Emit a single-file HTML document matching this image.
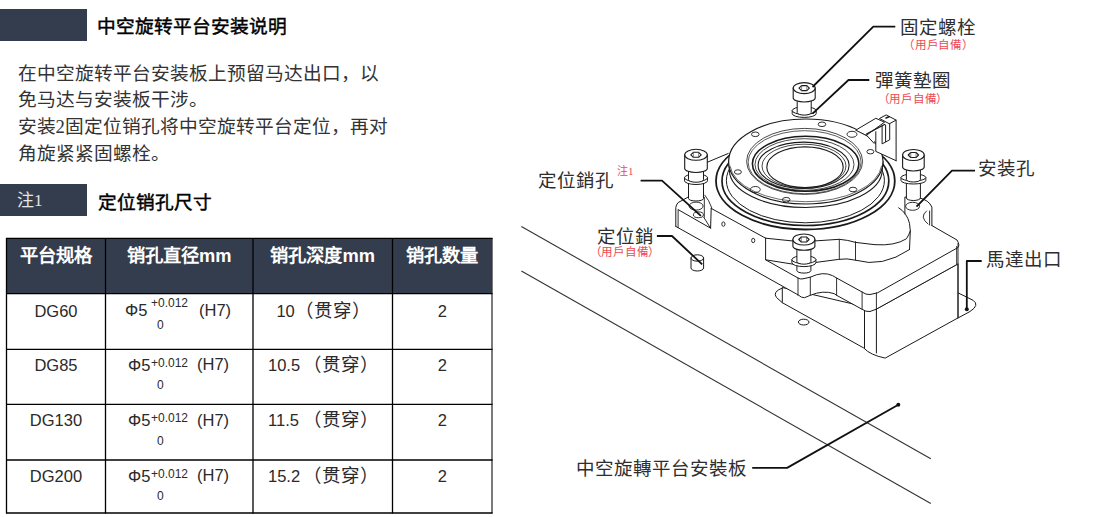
<!DOCTYPE html>
<html lang="zh-CN"><head><meta charset="utf-8">
<style>
html,body{margin:0;padding:0;background:#fff;}
body{width:1113px;height:517px;position:relative;overflow:hidden;font-family:"Liberation Serif",serif;color:#000;}
.a{position:absolute;white-space:nowrap;line-height:1;}
.bar{position:absolute;background:#343d4d;}
.t{font-size:18.7px;color:#333;}
.b{font-weight:normal;color:#000;-webkit-text-stroke:0.45px #000;}
.hd{font-family:"Liberation Sans",sans-serif;font-weight:bold;font-size:18.3px;color:#fff;text-align:center;}
.c{font-family:"Liberation Sans",sans-serif;font-size:16.5px;color:#2a2a2a;}
.cc{text-align:center;}
.cj{font-family:"Liberation Sans",sans-serif;font-size:18.5px;color:#2a2a2a;}
.sup{font-family:"Liberation Sans",sans-serif;font-size:12px;color:#2a2a2a;}
.lb{font-family:"Liberation Serif",serif;font-size:19px;color:#2e2e2e;}
.red{font-family:"Liberation Serif",serif;color:#ec4a55;font-size:11px;}
</style></head><body>
<div class="bar" style="left:0;top:9px;width:87px;height:31.5px"></div>
<div class="a t b" style="left:97px;top:18px">中空旋转平台安装说明</div>
<div class="a t" style="left:17.5px;top:64.5px">在中空旋转平台安装板上预留马达出口，以</div>
<div class="a t" style="left:17.5px;top:91.2px">免马达与安装板干涉。</div>
<div class="a t" style="left:17.5px;top:117.9px">安装2固定位销孔将中空旋转平台定位，再对</div>
<div class="a t" style="left:17.5px;top:144.7px">角旋紧紧固螺栓。</div>
<div class="bar" style="left:0;top:184px;width:87px;height:31.5px"></div>
<div class="a" style="left:17px;top:192px;font-size:17px;color:#e6e6e6">注1</div>
<div class="a t b" style="left:98px;top:194px">定位销孔尺寸</div>
<div style="position:absolute;left:6px;top:238px;width:486px;height:55.7px;background:#343d4d"></div>
<div class="a hd" style="left:6.5px;width:99.0px;top:246.5px">平台规格</div>
<div class="a hd" style="left:105.5px;width:147.5px;top:246.5px">销孔直径mm</div>
<div class="a hd" style="left:253px;width:139.5px;top:246.5px">销孔深度mm</div>
<div class="a hd" style="left:392.5px;width:99.5px;top:246.5px">销孔数量</div>
<div class="a c cc" style="left:6.5px;width:99.0px;top:302.5px">DG60</div>
<div class="a c cc" style="left:392.5px;width:99.5px;top:302.5px">2</div>
<div class="a c" style="left:276.4px;top:302.5px">10</div>
<div class="a cj" style="left:295.09999999999997px;top:301.5px">（贯穿）</div>
<div class="a c" style="left:125px;top:301.5px">Φ5</div>
<div class="a sup" style="left:151px;top:296.5px">+0.012</div>
<div class="a c" style="left:199px;top:302px">(H7)</div>
<div class="a sup" style="left:157px;top:319px">0</div>
<div class="a c cc" style="left:6.5px;width:99.0px;top:356.8px">DG85</div>
<div class="a c cc" style="left:392.5px;width:99.5px;top:356.8px">2</div>
<div class="a c" style="left:268px;top:356.8px">10.5</div>
<div class="a cj" style="left:302.7px;top:355.8px">（贯穿）</div>
<div class="a c" style="left:128px;top:356.5px">Φ5</div>
<div class="a sup" style="left:151px;top:356.5px">+0.012</div>
<div class="a c" style="left:197px;top:356.2px">(H7)</div>
<div class="a sup" style="left:157px;top:379px">0</div>
<div class="a c cc" style="left:6.5px;width:99.0px;top:412.3px">DG130</div>
<div class="a c cc" style="left:392.5px;width:99.5px;top:412.3px">2</div>
<div class="a c" style="left:268px;top:412.3px">11.5</div>
<div class="a cj" style="left:302.7px;top:411.3px">（贯穿）</div>
<div class="a c" style="left:128px;top:412.0px">Φ5</div>
<div class="a sup" style="left:151px;top:412.0px">+0.012</div>
<div class="a c" style="left:197px;top:411.7px">(H7)</div>
<div class="a sup" style="left:157px;top:434.5px">0</div>
<div class="a c cc" style="left:6.5px;width:99.0px;top:467.8px">DG200</div>
<div class="a c cc" style="left:392.5px;width:99.5px;top:467.8px">2</div>
<div class="a c" style="left:268px;top:467.8px">15.2</div>
<div class="a cj" style="left:302.7px;top:466.8px">（贯穿）</div>
<div class="a c" style="left:128px;top:467.5px">Φ5</div>
<div class="a sup" style="left:151px;top:467.5px">+0.012</div>
<div class="a c" style="left:197px;top:467.2px">(H7)</div>
<div class="a sup" style="left:157px;top:490px">0</div>
<svg style="position:absolute;left:0;top:0" width="1113" height="517" viewBox="0 0 1113 517">
<g stroke="#000" stroke-width="1.3" fill="none">
<line x1="6.5" y1="238" x2="6.5" y2="513.6"/>
<line x1="105.5" y1="238" x2="105.5" y2="513.6"/>
<line x1="253" y1="238" x2="253" y2="513.6"/>
<line x1="392.5" y1="238" x2="392.5" y2="513.6"/>
<line x1="492" y1="238" x2="492" y2="513.6" stroke="#333"/>
<line x1="6" y1="238.4" x2="492.5" y2="238.4"/>
<line x1="6" y1="293.7" x2="492.5" y2="293.7"/>
<line x1="6" y1="349.4" x2="492.5" y2="349.4"/>
<line x1="6" y1="404.4" x2="492.5" y2="404.4"/>
<line x1="6" y1="460" x2="492.5" y2="460"/>
<line x1="6" y1="513" x2="492.5" y2="513"/>
</g>
<polyline points="521.4,226.5 930.8,458.8" fill="none" stroke="#333" stroke-width="1.1" stroke-linejoin="round"/>
<polyline points="521.4,271.0 930.8,503.4" fill="none" stroke="#333" stroke-width="1.1" stroke-linejoin="round"/>
<path d="M782.3,288 Q772,292 776.5,297.5 L782.3,302.7" fill="none" stroke="#1a1a1a" stroke-width="1" stroke-linejoin="round" stroke-linecap="round"/>
<path d="M958,292.8 L973.1,300.3 Q980,305 970,311.5 L958,318" fill="none" stroke="#1a1a1a" stroke-width="1" stroke-linejoin="round" stroke-linecap="round"/>
<path d="M782.3,287.9 L782.3,302.7 L863.8,348 Q870,355 885.2,358.1 L958,317.9 L958,263.9 L876.4,309.1 Z" fill="#fff" stroke="#1a1a1a" stroke-width="1" stroke-linejoin="round" stroke-linecap="round"/>
<path d="M864.5,311 L864.5,348" fill="none" stroke="#1a1a1a" stroke-width="1" stroke-linejoin="round" stroke-linecap="round"/>
<path d="M876.4,309 L876.4,353" fill="none" stroke="#1a1a1a" stroke-width="1" stroke-linejoin="round" stroke-linecap="round"/>
<ellipse cx="803.7" cy="322.1" rx="5.3" ry="2.9" fill="none" stroke="#1a1a1a" stroke-width="1"/>
<path d="M675.8,206.7 L675.8,226.4 L798.8,295.3 Q801,297.7 804.5,297.7 L810.3,295.3 Q823,290 834.1,293.6 L862.1,309.3 Q866,312 868.6,311.7 L876.4,309.1 L958,263.9 L959,243.4 L931.9,225.6 L931.9,207 L905,197 L700,190 Z" fill="#fff" stroke="none" stroke-width="0" stroke-linejoin="round" stroke-linecap="round"/>
<path d="M675.8,226.4 L798.8,295.3 Q801,297.7 804.5,297.7 L810.3,295.3 Q823,290 834.1,293.6 L836.6,295.3 L862.1,309.3 Q866,312 870,311.5 L876.4,309.1 L958,263.9" fill="none" stroke="#1a1a1a" stroke-width="1" stroke-linejoin="round" stroke-linecap="round"/>
<path d="M765.6,259.8 L798,278 Q800,279.5 803,278.8 L810.3,277.2 Q823,271 832.5,275.6 L836.6,278 L862.1,292 Q866,295 870,294.5 L877.6,292.8 L958,247.5 Q960,245 957,240 L931.9,225.6" fill="none" stroke="#1a1a1a" stroke-width="1" stroke-linejoin="round" stroke-linecap="round"/>
<path d="M798,278 L798,295.3" fill="none" stroke="#1a1a1a" stroke-width="0.9" stroke-linejoin="round" stroke-linecap="round"/>
<path d="M810.3,277.2 L810.3,295.3" fill="none" stroke="#1a1a1a" stroke-width="0.9" stroke-linejoin="round" stroke-linecap="round"/>
<path d="M836.6,278 L836.6,295.3" fill="none" stroke="#1a1a1a" stroke-width="0.9" stroke-linejoin="round" stroke-linecap="round"/>
<path d="M862.1,292 L862.1,309.3" fill="none" stroke="#1a1a1a" stroke-width="0.9" stroke-linejoin="round" stroke-linecap="round"/>
<path d="M876.4,292.8 L876.4,309.1" fill="none" stroke="#1a1a1a" stroke-width="0.9" stroke-linejoin="round" stroke-linecap="round"/>
<path d="M958,243.4 L958,318" fill="none" stroke="#1a1a1a" stroke-width="0.9" stroke-linejoin="round" stroke-linecap="round"/>
<path d="M956.7,246.5 L956.7,264" fill="none" stroke="#1a1a1a" stroke-width="0.9" stroke-linejoin="round" stroke-linecap="round"/>
<path d="M711.2,208.4 L765.6,238.2" fill="none" stroke="#1a1a1a" stroke-width="1" stroke-linejoin="round" stroke-linecap="round"/>
<path d="M765.6,238.2 L765.6,259.8 L795,264.5" fill="none" stroke="#1a1a1a" stroke-width="1" stroke-linejoin="round" stroke-linecap="round"/>
<path d="M765.6,238.2 L795,241.2" fill="none" stroke="#1a1a1a" stroke-width="1" stroke-linejoin="round" stroke-linecap="round"/>
<path d="M815.3,240.9 L839.3,239.3 Q848,240 855.5,242.4 L875,244.7 Q895,246 906.4,238.8 Q909,235 910.3,231" fill="none" stroke="#1a1a1a" stroke-width="1" stroke-linejoin="round" stroke-linecap="round"/>
<path d="M815.3,262.5 L838.5,259.4 Q847,258 855.5,260.2 Q882,268 909.5,249.6" fill="none" stroke="#1a1a1a" stroke-width="1" stroke-linejoin="round" stroke-linecap="round"/>
<path d="M839.3,239.3 L839.3,259.4 M855.5,241.6 L855.5,260.2" fill="none" stroke="#1a1a1a" stroke-width="0.9" stroke-linejoin="round" stroke-linecap="round"/>
<path d="M898.7,207.8 Q907,213 909.5,223.3 L910.3,231 L909.5,249.6" fill="none" stroke="#1a1a1a" stroke-width="1" stroke-linejoin="round" stroke-linecap="round"/>
<path d="M904.9,214 L904.9,197 L918.8,197.8 Q929,200 931.9,207.1 L931.9,225.6" fill="none" stroke="#1a1a1a" stroke-width="1" stroke-linejoin="round" stroke-linecap="round"/>
<path d="M926.5,211 Q919,217 928,224 M929.6,211 L929.6,225" fill="none" stroke="#1a1a1a" stroke-width="0.9" stroke-linejoin="round" stroke-linecap="round"/>
<ellipse cx="912.6" cy="206.3" rx="7" ry="4" fill="none" stroke="#1a1a1a" stroke-width="0.9"/>
<ellipse cx="723.4" cy="224.1" rx="1.6" ry="2.2" fill="none" stroke="#1a1a1a" stroke-width="0.9"/>
<ellipse cx="753.2" cy="240.5" rx="1.6" ry="2.2" fill="none" stroke="#1a1a1a" stroke-width="0.9"/>
<path d="M675.8,226.4 L675.8,207.5 Q676,205 678.1,202.6 L688.6,196.8" fill="none" stroke="#1a1a1a" stroke-width="1" stroke-linejoin="round" stroke-linecap="round"/>
<path d="M678.1,210.2 L678.1,227.6" fill="none" stroke="#1a1a1a" stroke-width="0.9" stroke-linejoin="round" stroke-linecap="round"/>
<path d="M678.1,209.6 L710.6,228.2 L711.2,208.4" fill="none" stroke="#1a1a1a" stroke-width="1" stroke-linejoin="round" stroke-linecap="round"/>
<path d="M703.7,217.2 L710.6,228.2 M704.3,197.4 L704.3,217.2" fill="none" stroke="#1a1a1a" stroke-width="0.9" stroke-linejoin="round" stroke-linecap="round"/>
<path d="M704.8,195.1 Q709,200 711.8,207.9" fill="none" stroke="#1a1a1a" stroke-width="0.9" stroke-linejoin="round" stroke-linecap="round"/>
<ellipse cx="696.1" cy="206.1" rx="7" ry="4" fill="none" stroke="#1a1a1a" stroke-width="0.9"/>
<ellipse cx="698.4" cy="214.8" rx="5" ry="2.9" fill="none" stroke="#1a1a1a" stroke-width="0.9"/>
<path d="M705,163.2 L728.2,153.5" fill="none" stroke="#1a1a1a" stroke-width="1" stroke-linejoin="round" stroke-linecap="round"/>
<ellipse cx="805.4" cy="181" rx="89.4" ry="48.5" fill="#fff" stroke="#1a1a1a" stroke-width="1.8"/>
<ellipse cx="805.4" cy="181" rx="83.4" ry="44.5" fill="none" stroke="#1a1a1a" stroke-width="1.7"/>
<ellipse cx="805.4" cy="180.5" rx="79" ry="42.3" fill="none" stroke="#1a1a1a" stroke-width="1.0"/>
<path d="M728.6,161.5 L729.4,170 A76.4,37.5 0 0 0 882.2,170 L883,161.5" fill="#fff" stroke="#1a1a1a" stroke-width="1.1" stroke-linejoin="round" stroke-linecap="round"/>
<ellipse cx="805.8" cy="161.5" rx="77.2" ry="42.5" fill="#fff" stroke="#1a1a1a" stroke-width="1.2"/>
<path d="M730,166 A76,38.5 0 0 0 881.6,166" fill="none" stroke="#444" stroke-width="0.8" stroke-linejoin="round" stroke-linecap="round"/>
<ellipse cx="804.6" cy="161.4" rx="58" ry="33" fill="none" stroke="#1a1a1a" stroke-width="0.8"/>
<ellipse cx="804.6" cy="162.2" rx="56.5" ry="31.5" fill="none" stroke="#333" stroke-width="0.8"/>
<ellipse cx="805.6" cy="163.8" rx="53.2" ry="27.5" fill="none" stroke="#1a1a1a" stroke-width="1.6"/>
<ellipse cx="804.5" cy="164.5" rx="49.5" ry="25.8" fill="none" stroke="#1a1a1a" stroke-width="0.8"/>
<ellipse cx="803.6" cy="165.3" rx="45.5" ry="23.2" fill="none" stroke="#1a1a1a" stroke-width="1.1"/>
<ellipse cx="804" cy="166" rx="42" ry="21.8" fill="none" stroke="#1a1a1a" stroke-width="0.8"/>
<ellipse cx="805" cy="167.2" rx="38.2" ry="20.3" fill="none" stroke="#1a1a1a" stroke-width="1.1"/>
<ellipse cx="755.3" cy="134.3" rx="3.8" ry="2.3" fill="none" stroke="#1a1a1a" stroke-width="0.9"/>
<ellipse cx="822" cy="124.3" rx="3.8" ry="2.3" fill="none" stroke="#1a1a1a" stroke-width="0.9"/>
<ellipse cx="852" cy="134.3" rx="5" ry="3" fill="none" stroke="#1a1a1a" stroke-width="0.9"/>
<ellipse cx="870.4" cy="151.7" rx="3.5" ry="2.2" fill="none" stroke="#1a1a1a" stroke-width="0.9"/>
<ellipse cx="737.9" cy="172" rx="3.5" ry="2.2" fill="none" stroke="#1a1a1a" stroke-width="0.9"/>
<ellipse cx="755.3" cy="189.5" rx="5" ry="3" fill="none" stroke="#1a1a1a" stroke-width="0.9"/>
<ellipse cx="786.2" cy="199.7" rx="3.8" ry="2.3" fill="none" stroke="#1a1a1a" stroke-width="0.9"/>
<ellipse cx="853" cy="189.5" rx="3.8" ry="2.3" fill="none" stroke="#1a1a1a" stroke-width="0.9"/>
<path d="M875.8,131.7 L875.8,151.4 L896.1,160.7 L896.1,120.1 L886.2,114.9 L879.8,118.3 L875.8,118.3 L856,130 L866.5,135.2 L874,143.3 Z" fill="#fff" stroke="none" stroke-width="0" stroke-linejoin="round" stroke-linecap="round"/>
<path d="M856,130 L875.8,118.3 L884.5,122.2 L866.5,135.2 Z" fill="none" stroke="#1a1a1a" stroke-width="1" stroke-linejoin="round" stroke-linecap="round"/>
<path d="M866.5,134 L884.5,124.5" fill="none" stroke="#1a1a1a" stroke-width="1.4" stroke-linejoin="round" stroke-linecap="round"/>
<path d="M879.8,118.3 L886.2,114.9 L896.1,120.1 L889.7,123.6 Z" fill="none" stroke="#1a1a1a" stroke-width="1" stroke-linejoin="round" stroke-linecap="round"/>
<path d="M896.1,120.1 L896.1,160.7 M889.7,123.6 L889.7,139.8 L882.1,143.9 L882.1,125.9 M885.6,125 L885.6,141.5" fill="none" stroke="#1a1a1a" stroke-width="1" stroke-linejoin="round" stroke-linecap="round"/>
<path d="M875.8,131.7 L875.8,151.4 L896.1,160.7 M866.5,135.2 L874,143.3" fill="none" stroke="#1a1a1a" stroke-width="1" stroke-linejoin="round" stroke-linecap="round"/>
<path d="M886,118 L889,116.8" fill="none" stroke="#1a1a1a" stroke-width="1.6" stroke-linejoin="round" stroke-linecap="round"/>
<path d="M792.2,110.6 L792.2,113.6 A12.0,3.8000000000000043 0 0 0 816.2,113.6 L816.2,110.6" fill="#fff" stroke="#1a1a1a" stroke-width="1" stroke-linejoin="round" stroke-linecap="round"/>
<ellipse cx="804.2" cy="110.6" rx="12.0" ry="3.8000000000000043" fill="#fff" stroke="#1a1a1a" stroke-width="1"/>
<path d="M797.2,99 L797.2,112.6 A7.0,2.5 0 0 0 811.2,112.6 L811.2,99 Z" fill="#fff" stroke="#1a1a1a" stroke-width="1" stroke-linejoin="round" stroke-linecap="round"/>
<path d="M793.2,88.1 L793.2,98 A11.0,4 0 0 0 815.2,98 L815.2,88.1" fill="#fff" stroke="#1a1a1a" stroke-width="1.1" stroke-linejoin="round" stroke-linecap="round"/>
<ellipse cx="804.2" cy="88.1" rx="11.0" ry="5.5" fill="#fff" stroke="#1a1a1a" stroke-width="1.1"/>
<polygon points="809.4,88.1 806.8,90.6 801.6,90.6 799.0,88.1 801.6,85.6 806.8,85.6" fill="none" stroke="#1a1a1a" stroke-width="1.1" stroke-linejoin="round"/>
<path d="M801.6,85.6 L801.6,90.6 M806.8000000000001,85.6 L806.8000000000001,90.6" fill="none" stroke="#555" stroke-width="0.7" stroke-linejoin="round" stroke-linecap="round"/>
<path d="M688.5,177.75 L688.5,198.5 A7.5,2.5 0 0 0 703.5,198.5 L703.5,177.75 Z" fill="#fff" stroke="#1a1a1a" stroke-width="1" stroke-linejoin="round" stroke-linecap="round"/>
<path d="M684.5,177.75 L684.5,180.75 A11.5,3.75 0 0 0 707.5,180.75 L707.5,177.75" fill="#fff" stroke="#1a1a1a" stroke-width="1" stroke-linejoin="round" stroke-linecap="round"/>
<ellipse cx="696" cy="177.75" rx="11.5" ry="3.75" fill="#fff" stroke="#1a1a1a" stroke-width="1"/>
<path d="M688.5,169.5 L688.5,179.75 A7.5,2.5 0 0 0 703.5,179.75 L703.5,169.5 Z" fill="#fff" stroke="#1a1a1a" stroke-width="1" stroke-linejoin="round" stroke-linecap="round"/>
<path d="M684.7,154.8 L684.7,168.5 A11.3,4 0 0 0 707.3,168.5 L707.3,154.8" fill="#fff" stroke="#1a1a1a" stroke-width="1.1" stroke-linejoin="round" stroke-linecap="round"/>
<ellipse cx="696" cy="154.8" rx="11.3" ry="5.5" fill="#fff" stroke="#1a1a1a" stroke-width="1.1"/>
<polygon points="701.2,154.8 698.6,157.3 693.4,157.3 690.8,154.8 693.4,152.3 698.6,152.3" fill="none" stroke="#1a1a1a" stroke-width="1.1" stroke-linejoin="round"/>
<path d="M693.4,152.3 L693.4,157.3 M698.6,152.3 L698.6,157.3" fill="none" stroke="#555" stroke-width="0.7" stroke-linejoin="round" stroke-linecap="round"/>
<path d="M906.4,177.5 L906.4,198 A7.0,2.5 0 0 0 920.4,198 L920.4,177.5 Z" fill="#fff" stroke="#1a1a1a" stroke-width="1" stroke-linejoin="round" stroke-linecap="round"/>
<path d="M901.0,177.5 L901.0,180.5 A12.4,3.5 0 0 0 925.8,180.5 L925.8,177.5" fill="#fff" stroke="#1a1a1a" stroke-width="1" stroke-linejoin="round" stroke-linecap="round"/>
<ellipse cx="913.4" cy="177.5" rx="12.4" ry="3.5" fill="#fff" stroke="#1a1a1a" stroke-width="1"/>
<path d="M906.4,168 L906.4,179.5 A7.0,2.5 0 0 0 920.4,179.5 L920.4,168 Z" fill="#fff" stroke="#1a1a1a" stroke-width="1" stroke-linejoin="round" stroke-linecap="round"/>
<path d="M902.6,155.0 L902.6,167 A10.8,4 0 0 0 924.1999999999999,167 L924.1999999999999,155.0" fill="#fff" stroke="#1a1a1a" stroke-width="1.1" stroke-linejoin="round" stroke-linecap="round"/>
<ellipse cx="913.4" cy="155.0" rx="10.8" ry="5.5" fill="#fff" stroke="#1a1a1a" stroke-width="1.1"/>
<polygon points="918.6,155.0 916.0,157.5 910.8,157.5 908.2,155.0 910.8,152.5 916.0,152.5" fill="none" stroke="#1a1a1a" stroke-width="1.1" stroke-linejoin="round"/>
<path d="M910.8,152.5 L910.8,157.5 M916.0,152.5 L916.0,157.5" fill="none" stroke="#555" stroke-width="0.7" stroke-linejoin="round" stroke-linecap="round"/>
<path d="M796.9,259.65 L796.9,270.6 A7.0,2.5 0 0 0 810.9,270.6 L810.9,259.65 Z" fill="#fff" stroke="#1a1a1a" stroke-width="1" stroke-linejoin="round" stroke-linecap="round"/>
<path d="M791.9,259.65 L791.9,262.65 A12.0,3.950000000000017 0 0 0 815.9,262.65 L815.9,259.65" fill="#fff" stroke="#1a1a1a" stroke-width="1" stroke-linejoin="round" stroke-linecap="round"/>
<ellipse cx="803.9" cy="259.65" rx="12.0" ry="3.950000000000017" fill="#fff" stroke="#1a1a1a" stroke-width="1"/>
<path d="M796.9,247.3 L796.9,261.65 A7.0,2.5 0 0 0 810.9,261.65 L810.9,247.3 Z" fill="#fff" stroke="#1a1a1a" stroke-width="1" stroke-linejoin="round" stroke-linecap="round"/>
<path d="M792.9,239.5 L792.9,246.3 A11.0,4 0 0 0 814.9,246.3 L814.9,239.5" fill="#fff" stroke="#1a1a1a" stroke-width="1.1" stroke-linejoin="round" stroke-linecap="round"/>
<ellipse cx="803.9" cy="239.5" rx="11.0" ry="5.5" fill="#fff" stroke="#1a1a1a" stroke-width="1.1"/>
<polygon points="809.1,239.5 806.5,242.0 801.3,242.0 798.7,239.5 801.3,237.0 806.5,237.0" fill="none" stroke="#1a1a1a" stroke-width="1.1" stroke-linejoin="round"/>
<path d="M801.3,237.0 L801.3,242.0 M806.5,237.0 L806.5,242.0" fill="none" stroke="#555" stroke-width="0.7" stroke-linejoin="round" stroke-linecap="round"/>
<path d="M691,258 L691,268 A6.3,3 0 0 0 703.6,268 L703.6,258" fill="#fff" stroke="#1a1a1a" stroke-width="1" stroke-linejoin="round" stroke-linecap="round"/>
<ellipse cx="697.3" cy="258" rx="6.3" ry="3.2" fill="none" stroke="#1a1a1a" stroke-width="1"/>
<polyline points="812.5,87.0 873.3,26.7 895.3,26.7" fill="none" stroke="#111" stroke-width="1.8" stroke-linejoin="round"/>
<polyline points="812.5,113.7 848.5,80.0 869.3,80.0" fill="none" stroke="#111" stroke-width="1.8" stroke-linejoin="round"/>
<polyline points="640.6,180.7 662.0,180.7 700.9,215.8" fill="none" stroke="#111" stroke-width="1.8" stroke-linejoin="round"/>
<polyline points="656.9,236.0 672.0,236.0 702.2,264.4" fill="none" stroke="#111" stroke-width="1.8" stroke-linejoin="round"/>
<polyline points="916.5,206.7 952.0,170.6 975.0,170.6" fill="none" stroke="#111" stroke-width="1.8" stroke-linejoin="round"/>
<polyline points="966.8,309.3 966.8,261.0 981.7,261.0" fill="none" stroke="#111" stroke-width="1.8" stroke-linejoin="round"/>
<polyline points="898.3,404.7 787.1,467.9 752.2,467.9" fill="none" stroke="#111" stroke-width="1.8" stroke-linejoin="round"/>
<circle cx="898.3" cy="404.7" r="2" fill="#111"/>
<circle cx="966.8" cy="309.3" r="2" fill="#111"/>
</svg>
<div class="a lb" style="left:900.2px;top:18.8px;font-size:18.5px;">固定螺栓</div>
<div class="a red" style="left:903.0px;top:39.7px;font-size:11.5px;letter-spacing:0.8px">（用戶自備）</div>
<div class="a lb" style="left:875.1px;top:71.7px;font-size:18.5px;">彈簧墊圈</div>
<div class="a red" style="left:877.5px;top:93.8px;font-size:11.5px;letter-spacing:0.8px">（用戶自備）</div>
<div class="a lb" style="left:538.3px;top:171.7px;font-size:18.5px;">定位銷孔</div>
<div class="a red" style="left:617.0px;top:166.3px;font-size:11px;">注1</div>
<div class="a lb" style="left:977.9px;top:159.9px;font-size:18.5px;">安装孔</div>
<div class="a lb" style="left:596.9px;top:227.6px;font-size:18.5px;">定位銷</div>
<div class="a red" style="left:589.5px;top:246.9px;font-size:11.5px;letter-spacing:0.8px">（用戶自備）</div>
<div class="a lb" style="left:986.0px;top:250.6px;font-size:18.5px;">馬達出口</div>
<div class="a lb" style="left:576.3px;top:459.6px;font-size:18.5px;">中空旋轉平台安裝板</div>
</body></html>
